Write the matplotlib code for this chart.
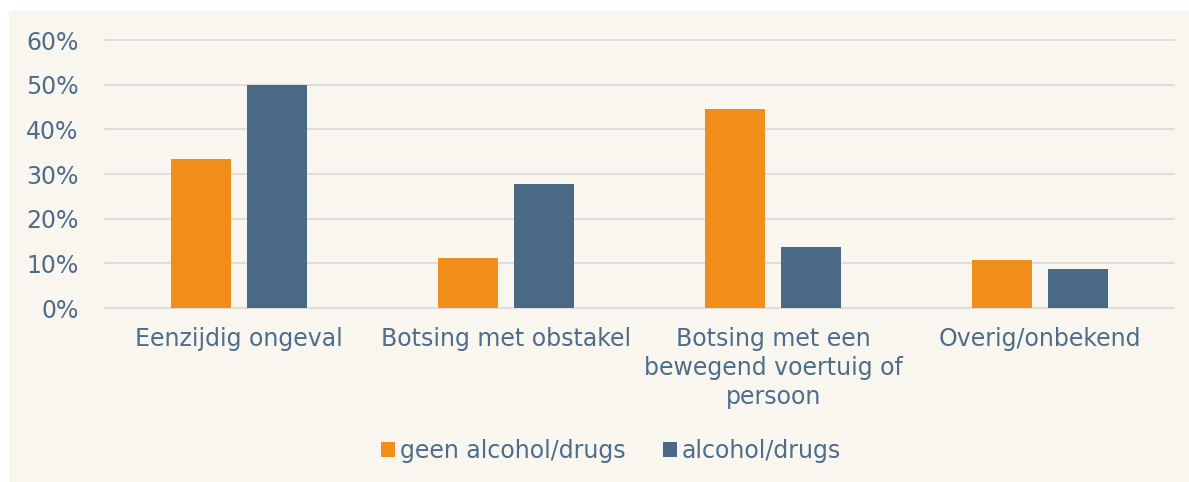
import numpy as np
import matplotlib.pyplot as plt
from matplotlib.patches import Rectangle
from matplotlib.ticker import PercentFormatter

# data (percent)
categories = ['Eenzijdig ongeval', 'Botsing met obstakel',
              'Botsing met een\nbewegend voertuig of\npersoon', 'Overig/onbekend']
geen = [33.3, 11.1, 44.6, 10.7]
wel = [50.0, 27.8, 13.7, 8.7]
series_names = ['geen alcohol/drugs', 'alcohol/drugs']

bg = '#f9f6f0'
text_col = '#4e6d8a'
orange = '#f08e19'
blue = '#4a6984'

fig = plt.figure(figsize=(11.89, 4.82), dpi=100)
fig.patch.set_facecolor('white')
# beige panel with a thin white margin top/left
fig.patches.append(Rectangle((9 / 1189, 0), 1 - 9 / 1189, 1 - 11 / 482,
                             transform=fig.transFigure, facecolor=bg,
                             edgecolor='none', zorder=-1))

ax = fig.add_axes([105 / 1189, 1 - 308 / 482, (1174 - 105) / 1189, (308 - 40) / 482])
ax.set_facecolor('none')

x = np.arange(len(categories))
w = 0.225
off = 0.142
ax.bar(x - off, geen, w, color=orange, label=series_names[0], zorder=3)
ax.bar(x + off, wel, w, color=blue, label=series_names[1], zorder=3)

ax.set_xlim(-0.5, len(categories) - 0.5)
ax.set_ylim(0, 60)
ax.set_yticks(np.arange(0, 61, 10))
ax.yaxis.set_major_formatter(PercentFormatter(decimals=0))
ax.grid(axis='y', color='#d9d9d9', linewidth=1.2, zorder=0)
ax.set_axisbelow(True)
for gl in ax.yaxis.get_gridlines():
    gl.set_clip_on(False)
for s in ax.spines.values():
    s.set_visible(False)

ax.set_xticks(x)
ax.set_xticklabels(categories, linespacing=1.25)
ax.tick_params(axis='both', length=0, labelsize=17, labelcolor=text_col)
ax.tick_params(axis='y', pad=19)
ax.tick_params(axis='x', pad=14)

fig.legend(loc='center', bbox_to_anchor=(611 / 1189, 1 - 451 / 482), ncol=2,
           frameon=False, fontsize=17, labelcolor=text_col,
           handlelength=0.6, handleheight=0.6, handletextpad=0.2,
           columnspacing=1.6)

fig.savefig('out.png', dpi=100, facecolor=fig.get_facecolor())
